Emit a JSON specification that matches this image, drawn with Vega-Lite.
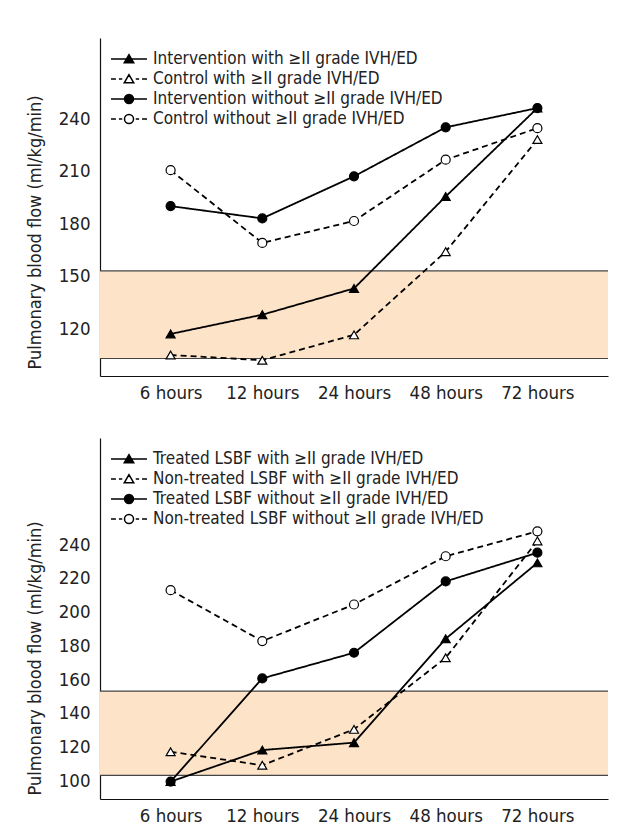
{
  "$schema": "https://vega.github.io/schema/vega-lite/v6.json",
  "autosize": {"type": "pad"},
  "padding": {"left": 26, "top": 38, "right": 0, "bottom": 0},
  "background": "white",
  "spacing": 62,
  "bounds": "flush",
  "config": {
    "font": "DejaVu Sans Condensed",
    "view": {"stroke": null},
    "axis": {
      "labelFont": "DejaVu Sans Condensed",
      "labelFontSize": 18.5,
      "labelColor": "#222",
      "ticks": false,
      "grid": false,
      "domainColor": "#111",
      "domainWidth": 1.2,
      "titleFont": "DejaVu Sans Condensed",
      "titleFontSize": 18,
      "titleFontWeight": "normal",
      "titleColor": "#222"
    },
    "legend": {
      "orient": "none",
      "legendX": 20.5,
      "legendY": 12.5,
      "title": null,
      "labelFont": "DejaVu Sans Condensed",
      "labelFontSize": 17,
      "labelColor": "#222",
      "labelOffset": 15.5,
      "labelLimit": 500,
      "symbolSize": 81,
      "symbolStrokeWidth": 1.5,
      "symbolStrokeColor": "black",
      "rowPadding": 2,
      "padding": 0
    }
  },
  "datasets": {
    "top": [
      {"time": "6 hours", "flow": 114, "series": "Intervention with ≥II grade IVH/ED"},
      {"time": "12 hours", "flow": 125, "series": "Intervention with ≥II grade IVH/ED"},
      {"time": "24 hours", "flow": 140, "series": "Intervention with ≥II grade IVH/ED"},
      {"time": "48 hours", "flow": 192.5, "series": "Intervention with ≥II grade IVH/ED"},
      {"time": "72 hours", "flow": 243, "series": "Intervention with ≥II grade IVH/ED"},
      {"time": "6 hours", "flow": 102, "series": "Control with ≥II grade IVH/ED"},
      {"time": "12 hours", "flow": 99, "series": "Control with ≥II grade IVH/ED"},
      {"time": "24 hours", "flow": 113.5, "series": "Control with ≥II grade IVH/ED"},
      {"time": "48 hours", "flow": 161, "series": "Control with ≥II grade IVH/ED"},
      {"time": "72 hours", "flow": 225, "series": "Control with ≥II grade IVH/ED"},
      {"time": "6 hours", "flow": 187, "series": "Intervention without ≥II grade IVH/ED"},
      {"time": "12 hours", "flow": 180, "series": "Intervention without ≥II grade IVH/ED"},
      {"time": "24 hours", "flow": 204, "series": "Intervention without ≥II grade IVH/ED"},
      {"time": "48 hours", "flow": 232, "series": "Intervention without ≥II grade IVH/ED"},
      {"time": "72 hours", "flow": 243, "series": "Intervention without ≥II grade IVH/ED"},
      {"time": "6 hours", "flow": 207.5, "series": "Control without ≥II grade IVH/ED"},
      {"time": "12 hours", "flow": 166, "series": "Control without ≥II grade IVH/ED"},
      {"time": "24 hours", "flow": 178.5, "series": "Control without ≥II grade IVH/ED"},
      {"time": "48 hours", "flow": 213.5, "series": "Control without ≥II grade IVH/ED"},
      {"time": "72 hours", "flow": 231.5, "series": "Control without ≥II grade IVH/ED"}
    ],
    "bottom": [
      {"time": "6 hours", "flow": 96.3, "series": "Treated LSBF with ≥II grade IVH/ED"},
      {"time": "12 hours", "flow": 115, "series": "Treated LSBF with ≥II grade IVH/ED"},
      {"time": "24 hours", "flow": 119.4, "series": "Treated LSBF with ≥II grade IVH/ED"},
      {"time": "48 hours", "flow": 181, "series": "Treated LSBF with ≥II grade IVH/ED"},
      {"time": "72 hours", "flow": 226, "series": "Treated LSBF with ≥II grade IVH/ED"},
      {"time": "6 hours", "flow": 114, "series": "Non-treated LSBF with ≥II grade IVH/ED"},
      {"time": "12 hours", "flow": 106, "series": "Non-treated LSBF with ≥II grade IVH/ED"},
      {"time": "24 hours", "flow": 127.3, "series": "Non-treated LSBF with ≥II grade IVH/ED"},
      {"time": "48 hours", "flow": 169.7, "series": "Non-treated LSBF with ≥II grade IVH/ED"},
      {"time": "72 hours", "flow": 239, "series": "Non-treated LSBF with ≥II grade IVH/ED"},
      {"time": "6 hours", "flow": 96.3, "series": "Treated LSBF without ≥II grade IVH/ED"},
      {"time": "12 hours", "flow": 157.5, "series": "Treated LSBF without ≥II grade IVH/ED"},
      {"time": "24 hours", "flow": 172.7, "series": "Treated LSBF without ≥II grade IVH/ED"},
      {"time": "48 hours", "flow": 215, "series": "Treated LSBF without ≥II grade IVH/ED"},
      {"time": "72 hours", "flow": 232, "series": "Treated LSBF without ≥II grade IVH/ED"},
      {"time": "6 hours", "flow": 209.8, "series": "Non-treated LSBF without ≥II grade IVH/ED"},
      {"time": "12 hours", "flow": 179.6, "series": "Non-treated LSBF without ≥II grade IVH/ED"},
      {"time": "24 hours", "flow": 201.3, "series": "Non-treated LSBF without ≥II grade IVH/ED"},
      {"time": "48 hours", "flow": 229.9, "series": "Non-treated LSBF without ≥II grade IVH/ED"},
      {"time": "72 hours", "flow": 244.7, "series": "Non-treated LSBF without ≥II grade IVH/ED"}
    ],
    "band": [{"lo": 100, "hi": 150}]
  },
  "vconcat": [
    {
      "width": 508,
      "height": 338,
      "data": {"name": "top"},
      "resolve": {"scale": {"shape": "independent", "fill": "independent", "stroke": "independent"}},
      "layer": [
        {
          "data": {"name": "band"},
          "mark": {"type": "rect", "color": "#fde4c8"},
          "encoding": {
            "y": {"field": "lo", "type": "quantitative", "title": "Pulmonary blood flow (ml/kg/min)", "scale": {"domain": [90, 283], "nice": false, "zero": false}, "axis": {"values": [120, 150, 180, 210, 240], "labelPadding": 10, "labelOffset": 5, "titleX": -65, "titleY": 194, "titleBaseline": "middle"}},
            "y2": {"field": "hi"}
          }
        },
        {
          "data": {"name": "band"},
          "mark": {"type": "rule", "color": "#444", "strokeWidth": 1.2},
          "encoding": {"y": {"field": "lo", "type": "quantitative", "title": "Pulmonary blood flow (ml/kg/min)"}}
        },
        {
          "data": {"name": "band"},
          "mark": {"type": "rule", "color": "#444", "strokeWidth": 1.2},
          "encoding": {"y": {"field": "hi", "type": "quantitative", "title": "Pulmonary blood flow (ml/kg/min)"}}
        },
        {
          "mark": {"type": "line", "color": "black", "strokeWidth": 1.8},
          "encoding": {
            "x": {"field": "time", "type": "ordinal", "sort": ["6 hours", "12 hours", "24 hours", "48 hours", "72 hours"], "scale": {"type": "point", "padding": 0.77}, "axis": {"title": null, "labelAngle": 0, "labelPadding": 7}},
            "y": {"field": "flow", "type": "quantitative", "title": "Pulmonary blood flow (ml/kg/min)"},
            "detail": {"field": "series"},
            "strokeDash": {"field": "series", "type": "nominal", "legend": null, "scale": {"domain": ["Intervention with ≥II grade IVH/ED", "Control with ≥II grade IVH/ED", "Intervention without ≥II grade IVH/ED", "Control without ≥II grade IVH/ED"], "range": [[1, 0], [6, 4], [1, 0], [6, 4]]}}
          }
        },
        {
          "mark": {"type": "point", "filled": true, "stroke": "black", "strokeWidth": 1.2, "size": 81, "opacity": 1},
          "encoding": {
            "x": {"field": "time", "type": "ordinal", "sort": ["6 hours", "12 hours", "24 hours", "48 hours", "72 hours"]},
            "y": {"field": "flow", "type": "quantitative", "title": "Pulmonary blood flow (ml/kg/min)"},
            "shape": {"field": "series", "type": "nominal", "legend": null, "scale": {"domain": ["Intervention with ≥II grade IVH/ED", "Control with ≥II grade IVH/ED", "Intervention without ≥II grade IVH/ED", "Control without ≥II grade IVH/ED"], "range": ["triangle-up", "triangle-up", "circle", "circle"]}},
            "fill": {"field": "series", "type": "nominal", "legend": null, "scale": {"domain": ["Intervention with ≥II grade IVH/ED", "Control with ≥II grade IVH/ED", "Intervention without ≥II grade IVH/ED", "Control without ≥II grade IVH/ED"], "range": ["black", "white", "black", "white"]}}
          }
        },
        {
          "transform": [{"filter": "false"}],
          "mark": {"type": "point", "filled": false, "strokeWidth": 1.5, "size": 81, "opacity": 1},
          "encoding": {
            "shape": {"field": "series", "type": "nominal", "scale": {"domain": ["Intervention with ≥II grade IVH/ED", "Control with ≥II grade IVH/ED", "Intervention without ≥II grade IVH/ED", "Control without ≥II grade IVH/ED"], "range": ["M-4,0H4M0,-0.95L-1.05,0.85L1.05,0.85Z", "M-4,0H-2.9M-2.25,0H-1.5M1.5,0H2.25M2.9,0H4M0,-0.95L-1.05,0.85L1.05,0.85Z", "M-4,0H4M1,0A1,1,0,1,1,-1,0A1,1,0,1,1,1,0Z", "M-4,0H-2.9M-2.25,0H-1.5M1.5,0H2.25M2.9,0H4M1,0A1,1,0,1,1,-1,0A1,1,0,1,1,1,0Z"]}},
            "fill": {"field": "series", "type": "nominal", "scale": {"domain": ["Intervention with ≥II grade IVH/ED", "Control with ≥II grade IVH/ED", "Intervention without ≥II grade IVH/ED", "Control without ≥II grade IVH/ED"], "range": ["black", "white", "black", "white"]}},
            "stroke": {"field": "series", "type": "nominal", "scale": {"domain": ["Intervention with ≥II grade IVH/ED", "Control with ≥II grade IVH/ED", "Intervention without ≥II grade IVH/ED", "Control without ≥II grade IVH/ED"], "range": ["black", "black", "black", "black"]}}
          }
        }
      ]
    },
    {
      "width": 508,
      "height": 361,
      "data": {"name": "bottom"},
      "resolve": {"scale": {"shape": "independent", "fill": "independent", "stroke": "independent"}},
      "layer": [
        {
          "data": {"name": "band"},
          "mark": {"type": "rect", "color": "#fde4c8"},
          "encoding": {
            "y": {"field": "lo", "type": "quantitative", "title": "Pulmonary blood flow (ml/kg/min)", "scale": {"domain": [86, 300], "nice": false, "zero": false}, "axis": {"values": [100, 120, 140, 160, 180, 200, 220, 240], "labelPadding": 10, "labelOffset": 5, "titleX": -65, "titleY": 220, "titleBaseline": "middle"}},
            "y2": {"field": "hi"}
          }
        },
        {
          "data": {"name": "band"},
          "mark": {"type": "rule", "color": "#444", "strokeWidth": 1.2},
          "encoding": {"y": {"field": "lo", "type": "quantitative", "title": "Pulmonary blood flow (ml/kg/min)"}}
        },
        {
          "data": {"name": "band"},
          "mark": {"type": "rule", "color": "#444", "strokeWidth": 1.2},
          "encoding": {"y": {"field": "hi", "type": "quantitative", "title": "Pulmonary blood flow (ml/kg/min)"}}
        },
        {
          "mark": {"type": "line", "color": "black", "strokeWidth": 1.8},
          "encoding": {
            "x": {"field": "time", "type": "ordinal", "sort": ["6 hours", "12 hours", "24 hours", "48 hours", "72 hours"], "scale": {"type": "point", "padding": 0.77}, "axis": {"title": null, "labelAngle": 0, "labelPadding": 7}},
            "y": {"field": "flow", "type": "quantitative", "title": "Pulmonary blood flow (ml/kg/min)"},
            "detail": {"field": "series"},
            "strokeDash": {"field": "series", "type": "nominal", "legend": null, "scale": {"domain": ["Treated LSBF with ≥II grade IVH/ED", "Non-treated LSBF with ≥II grade IVH/ED", "Treated LSBF without ≥II grade IVH/ED", "Non-treated LSBF without ≥II grade IVH/ED"], "range": [[1, 0], [6, 4], [1, 0], [6, 4]]}}
          }
        },
        {
          "mark": {"type": "point", "filled": true, "stroke": "black", "strokeWidth": 1.2, "size": 81, "opacity": 1},
          "encoding": {
            "x": {"field": "time", "type": "ordinal", "sort": ["6 hours", "12 hours", "24 hours", "48 hours", "72 hours"]},
            "y": {"field": "flow", "type": "quantitative", "title": "Pulmonary blood flow (ml/kg/min)"},
            "shape": {"field": "series", "type": "nominal", "legend": null, "scale": {"domain": ["Treated LSBF with ≥II grade IVH/ED", "Non-treated LSBF with ≥II grade IVH/ED", "Treated LSBF without ≥II grade IVH/ED", "Non-treated LSBF without ≥II grade IVH/ED"], "range": ["triangle-up", "triangle-up", "circle", "circle"]}},
            "fill": {"field": "series", "type": "nominal", "legend": null, "scale": {"domain": ["Treated LSBF with ≥II grade IVH/ED", "Non-treated LSBF with ≥II grade IVH/ED", "Treated LSBF without ≥II grade IVH/ED", "Non-treated LSBF without ≥II grade IVH/ED"], "range": ["black", "white", "black", "white"]}}
          }
        },
        {
          "transform": [{"filter": "false"}],
          "mark": {"type": "point", "filled": false, "strokeWidth": 1.5, "size": 81, "opacity": 1},
          "encoding": {
            "shape": {"field": "series", "type": "nominal", "scale": {"domain": ["Treated LSBF with ≥II grade IVH/ED", "Non-treated LSBF with ≥II grade IVH/ED", "Treated LSBF without ≥II grade IVH/ED", "Non-treated LSBF without ≥II grade IVH/ED"], "range": ["M-4,0H4M0,-0.95L-1.05,0.85L1.05,0.85Z", "M-4,0H-2.9M-2.25,0H-1.5M1.5,0H2.25M2.9,0H4M0,-0.95L-1.05,0.85L1.05,0.85Z", "M-4,0H4M1,0A1,1,0,1,1,-1,0A1,1,0,1,1,1,0Z", "M-4,0H-2.9M-2.25,0H-1.5M1.5,0H2.25M2.9,0H4M1,0A1,1,0,1,1,-1,0A1,1,0,1,1,1,0Z"]}},
            "fill": {"field": "series", "type": "nominal", "scale": {"domain": ["Treated LSBF with ≥II grade IVH/ED", "Non-treated LSBF with ≥II grade IVH/ED", "Treated LSBF without ≥II grade IVH/ED", "Non-treated LSBF without ≥II grade IVH/ED"], "range": ["black", "white", "black", "white"]}},
            "stroke": {"field": "series", "type": "nominal", "scale": {"domain": ["Treated LSBF with ≥II grade IVH/ED", "Non-treated LSBF with ≥II grade IVH/ED", "Treated LSBF without ≥II grade IVH/ED", "Non-treated LSBF without ≥II grade IVH/ED"], "range": ["black", "black", "black", "black"]}}
          }
        }
      ]
    }
  ]
}
